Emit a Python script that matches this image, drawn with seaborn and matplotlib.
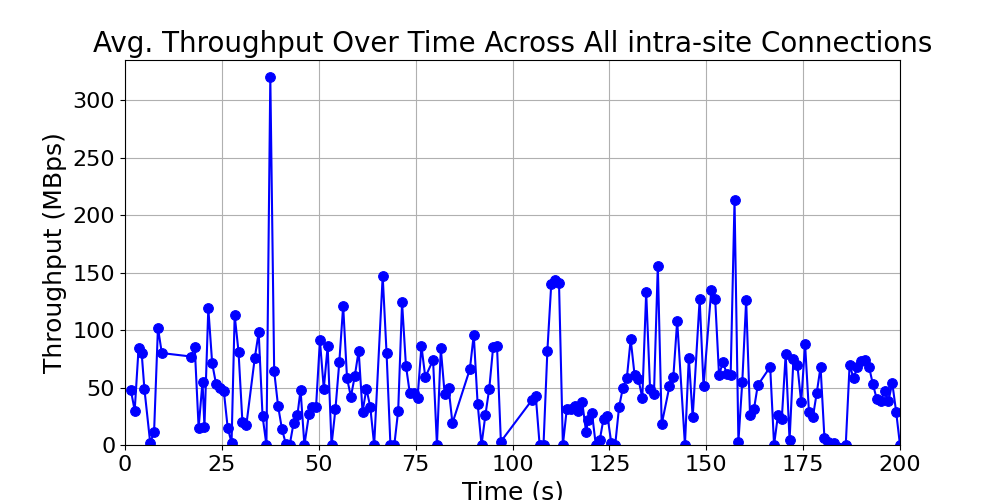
import matplotlib
matplotlib.use("Agg")
import matplotlib.pyplot as plt
import seaborn as sns
import pandas as pd

# Values
time_s = [1.5, 2.5, 3.5, 4.3, 5, 6.5, 7.5, 8.5, 9.5, 17, 18, 19, 20, 20.5, 21.5, 22.5, 23.5, 24.5, 25.5, 26.5,
          27.5, 28.3, 29.3, 30.3, 31.3, 33.5, 34.5, 35.5, 36.5, 37.5, 38.5, 39.5, 40.5, 41.5, 42.5, 43.5, 44.5,
          45.3, 46.3, 47.5, 48.3, 49.3, 50.3, 51.3, 52.3, 53.3, 54.3, 55.3, 56.3, 57.3, 58.3, 59.3, 60.3, 61.3,
          62.3, 63.3, 64.3, 66.5, 67.5, 68.5, 69.5, 70.5, 71.5, 72.5, 73.5, 74.5, 75.5, 76.5, 77.5, 79.5, 80.5,
          81.5, 82.5, 83.5, 84.5, 89, 90, 91, 92, 93, 94, 95, 96, 97, 105, 106, 107, 108, 109, 110, 111, 112,
          113, 114, 115, 116, 117, 118, 119, 119.5, 120.5, 121.5, 122.5, 123.5, 124.5, 125.5, 126.5, 127.5,
          128.5, 129.5, 130.5, 131.5, 132.5, 133.5, 134.5, 135.5, 136.5, 137.5, 138.5, 140.5, 141.5, 142.5,
          144.5, 145.5, 146.5, 148.3, 149.3, 151.3, 152.3, 153.3, 154.3, 155.3, 156.3, 157.3, 158.3, 159.3,
          160.3, 161.3, 162.3, 163.3, 166.5, 167.5, 168.5, 169.5, 170.5, 171.5, 172.5, 173.5, 174.5, 175.5,
          176.5, 177.5, 178.5, 179.5, 180.5, 181.5, 183, 186, 187, 188, 189, 190, 191, 192, 193, 194, 195,
          196, 197, 198, 199, 200]
throughput = [48, 30, 84, 80, 49, 2, 11, 102, 80, 77, 85, 15, 55, 16, 119, 71, 53, 50, 47, 15,
              2, 113, 81, 20, 17, 76, 98, 25, 0, 320, 64, 34, 14, 1, 0, 19, 26,
              48, 0, 27, 33, 33, 91, 49, 86, 0, 31, 72, 121, 58, 42, 60, 82, 29,
              49, 33, 0, 147, 80, 0, 0, 30, 124, 69, 45, 45, 41, 86, 59, 74, 0,
              84, 44, 50, 19, 66, 96, 36, 0, 26, 49, 85, 86, 3, 39, 43, 0, 0, 82, 140, 144, 141,
              0, 31, 31, 34, 30, 37, 11, 22, 28, 0, 4, 23, 25, 2, 0, 33,
              50, 58, 92, 61, 57, 41, 133, 49, 44, 156, 18, 51, 59, 108,
              0, 76, 24, 127, 51, 135, 127, 61, 72, 62, 61, 213, 3, 55,
              126, 26, 31, 52, 68, 0, 26, 23, 79, 4, 75, 70, 37, 88,
              29, 24, 45, 68, 6, 3, 2, 0, 70, 58, 68, 73, 74, 68, 53, 40, 38,
              47, 38, 54, 29, 0]

df = pd.DataFrame({"time": time_s, "throughput": throughput})

sns.set_style("ticks")
plt.rcParams["font.family"] = ["DejaVu Sans"]
plt.rcParams.update({"text.color": "black", "axes.labelcolor": "black",
                     "xtick.color": "black", "ytick.color": "black",
                     "axes.edgecolor": "black"})

fig, ax = plt.subplots(figsize=(10, 5), dpi=100)
sns.lineplot(data=df, x="time", y="throughput", ax=ax, color="blue", marker="o",
             markersize=7, markeredgecolor="blue", linewidth=1.5, estimator=None, sort=False)
ax.set_xlim(0, 200)
ax.set_ylim(0, 335)
ax.grid(True, color="#b0b0b0", linewidth=0.8)
ax.set_title("Avg. Throughput Over Time Across All intra-site Connections", fontsize=20)
ax.set_xlabel("Time (s)", fontsize=18)
ax.set_ylabel("Throughput (MBps)", fontsize=18)
ax.tick_params(labelsize=16)
fig.subplots_adjust(left=0.125, right=0.9, top=0.88, bottom=0.11)
fig.savefig("out.png")
